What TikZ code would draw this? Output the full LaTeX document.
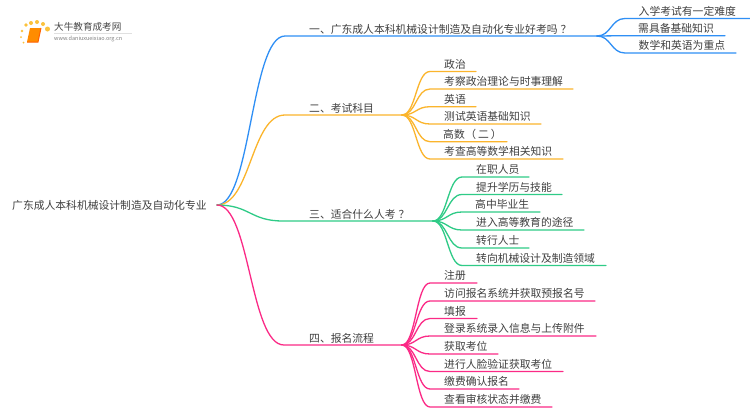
\documentclass[tikz,border=0pt]{standalone}
\usepackage{fontspec}
\setmainfont{Noto Sans CJK SC}
\usetikzlibrary{calc}
\definecolor{cblue}{HTML}{2F8FF5}
\definecolor{corange}{HTML}{FBB52C}
\definecolor{cgreen}{HTML}{2FCB87}
\definecolor{cpink}{HTML}{FB2A86}
\definecolor{ctext}{HTML}{404040}
\definecolor{cdot}{HTML}{FBC23C}
\tikzset{
  lbl/.style={font=\fontsize{10.8}{12}\selectfont,text=ctext,inner sep=0pt,anchor=west},
  conn/.style={line width=1.3pt,line cap=round},
}
% name, colour, junction x, junction y, curve end x, leaf y, text x, end x, text
\newcommand{\leaf}[9]{%
  \node[lbl] (#1) at (#7,#6-7.2) {#9};
  \coordinate (#1s) at (#5,#6);
  \coordinate (#1e) at (#8,#6);
  \draw[conn,#2] (#3,#4) .. controls ({(#3+#5)/2},#4) and ({(#3+#5)/2},#6) .. (#1s) -- (#1e);
}
\begin{document}
\begin{tikzpicture}[x=1pt,y=-1pt]
\useasboundingbox (0,0) rectangle (750,410);
\fill[white] (0,0) rectangle (750,410);
% logo
\foreach \x/\y/\r in {26/25/1.8,31/23/2,37/22/2,43/24/2,47.5/29/2.5,22/31/1.3,21/37/1,23.5/42.5/1}{
  \fill[cdot] (\x,\y) circle (\r);
}
\fill[orange!90!yellow] (30,28) -- (41,28) -- (38,42) -- (27,42) -- cycle;
\draw[orange!75!red,line width=1pt] (27,42) -- (38,42) -- (41,28);
\node[inner sep=0pt,anchor=west,font=\fontsize{9.6}{10}\selectfont,text=black!72] (logot) at (54,27) {大牛教育成考网};
\node[inner sep=0pt,anchor=west,font=\fontsize{5.5}{6}\selectfont,text=black!50] (logou) at (54,39) {www.daniuxueixiao.org.cn};
\draw[black!12,line width=0.6pt] (54,33.5) -- (132,33.5);
% root
\node[lbl] (root) at (12,205.5) {广东成人本科机械设计制造及自动化专业};
\coordinate (j0) at (217,205);
\coordinate (j1) at (597,36);
\coordinate (j2) at (402,115);
\coordinate (j3) at (433,221);
\coordinate (j4) at (402,345);
% branches
\node[lbl] (b1) at (309,29.3) {一、广东成人本科机械设计制造及自动化专业好考吗\hspace{3pt}？};
\node[lbl] (b2) at (309,108.3) {二、考试科目};
\node[lbl] (b3) at (309,214.5) {三、适合什么人考\hspace{3pt}？};
\node[lbl] (b4) at (309,338.3) {四、报名流程};
\draw[conn,cblue] (j0) .. controls (251,205) and (251,36) .. (285,36) -- (j1);
\draw[conn,corange] (j0) .. controls (251,205) and (251,115) .. (285,115) -- (j2);
\draw[conn,cgreen] (j0) .. controls (250,205) and (250,221) .. (283,221) -- (j3);
\draw[conn,cpink] (j0) .. controls (250,205) and (250,345) .. (284,345) -- (j4);
% group 1
\leaf{a1}{cblue}{597}{36}{625}{18.5}{638.5}{750}{入学考试有一定难度}
\leaf{a2}{cblue}{597}{36}{625}{35.7}{638}{725}{需具备基础知识}
\leaf{a3}{cblue}{597}{36}{625}{53}{638.5}{736}{数学和英语为重点}
% group 2
\leaf{c1}{corange}{402}{115}{430}{71.5}{444}{476}{政治}
\leaf{c2}{corange}{402}{115}{430}{89}{444}{573}{考察政治理论与时事理解}
\leaf{c3}{corange}{402}{115}{430}{106.7}{444}{476}{英语}
\leaf{c4}{corange}{402}{115}{430}{124}{444}{541}{测试英语基础知识}
\leaf{c5}{corange}{402}{115}{430}{141.7}{443}{507}{高数\hspace{0.5pt}（\hspace{2pt}二\hspace{2pt}）}
\leaf{c6}{corange}{402}{115}{430}{159}{444}{563}{考查高等数学相关知识}
% group 3
\leaf{d1}{cgreen}{433}{221}{462}{177}{476}{529}{在职人员}
\leaf{d2}{cgreen}{433}{221}{462}{194.5}{476}{562}{提升学历与技能}
\leaf{d3}{cgreen}{433}{221}{462}{212}{475}{540}{高中毕业生}
\leaf{d4}{cgreen}{433}{221}{462}{230}{476}{584}{进入高等教育的途径}
\leaf{d5}{cgreen}{433}{221}{462}{248}{476}{529}{转行人士}
\leaf{d6}{cgreen}{433}{221}{462}{265.5}{476}{606}{转向机械设计及制造领域}
% group 4
\leaf{e1}{cpink}{402}{345}{430}{283}{444}{477}{注册}
\leaf{e2}{cpink}{402}{345}{430}{301}{444}{595}{访问报名系统并获取预报名号}
\leaf{e3}{cpink}{402}{345}{430}{318.5}{444}{477}{填报}
\leaf{e4}{cpink}{402}{345}{430}{336}{444}{596}{登录系统录入信息与上传附件}
\leaf{e5}{cpink}{402}{345}{430}{354}{444}{498}{获取考位}
\leaf{e6}{cpink}{402}{345}{430}{371.5}{444}{563}{进行人脸验证获取考位}
\leaf{e7}{cpink}{402}{345}{430}{389}{444}{519}{缴费确认报名}
\leaf{e8}{cpink}{402}{345}{430}{407}{444}{552}{查看审核状态并缴费}
\end{tikzpicture}
\end{document}
